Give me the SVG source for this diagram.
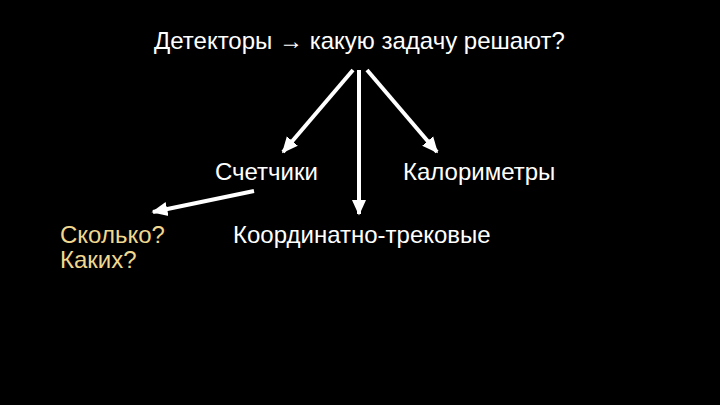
<svg xmlns="http://www.w3.org/2000/svg" width="720" height="405" viewBox="0 0 720 405">
  <defs>
    <marker id="ah" viewBox="0 0 10 10" refX="9" refY="5" markerWidth="4" markerHeight="4" orient="auto" markerUnits="strokeWidth">
      <path d="M0,0.5 L10,5 L0,9.5 Z" fill="#ffffff"/>
    </marker>
    <style>
      .t { font-family: "Liberation Sans", Arial, sans-serif; font-size: 24px; fill: #ffffff; }
      .y { fill: #f0d890; }
      .c { stroke: #ffffff; stroke-width: 4; fill: none; marker-end: url(#ah); }
    </style>
  </defs>
  <rect width="720" height="405" fill="#000000"/>
  <g id="connectors">
    <line class="c" x1="353" y1="70" x2="283" y2="152"/>
    <line class="c" x1="359" y1="70" x2="359" y2="214"/>
    <line class="c" x1="367" y1="70" x2="437" y2="152"/>
    <line class="c" x1="254" y1="191" x2="153" y2="212"/>
  </g>
  <g id="title"><text class="t" x="154" y="49">Детекторы → какую задачу решают?</text></g>
  <g id="counters"><text class="t" x="215" y="180">Счетчики</text></g>
  <g id="calorimeters"><text class="t" x="403" y="180">Калориметры</text></g>
  <g id="tracking"><text class="t" x="233" y="243">Координатно-трековые</text></g>
  <g id="questions">
    <text class="t y" x="60" y="243">Сколько?</text>
    <text class="t y" x="60" y="268">Каких?</text>
  </g>
</svg>
